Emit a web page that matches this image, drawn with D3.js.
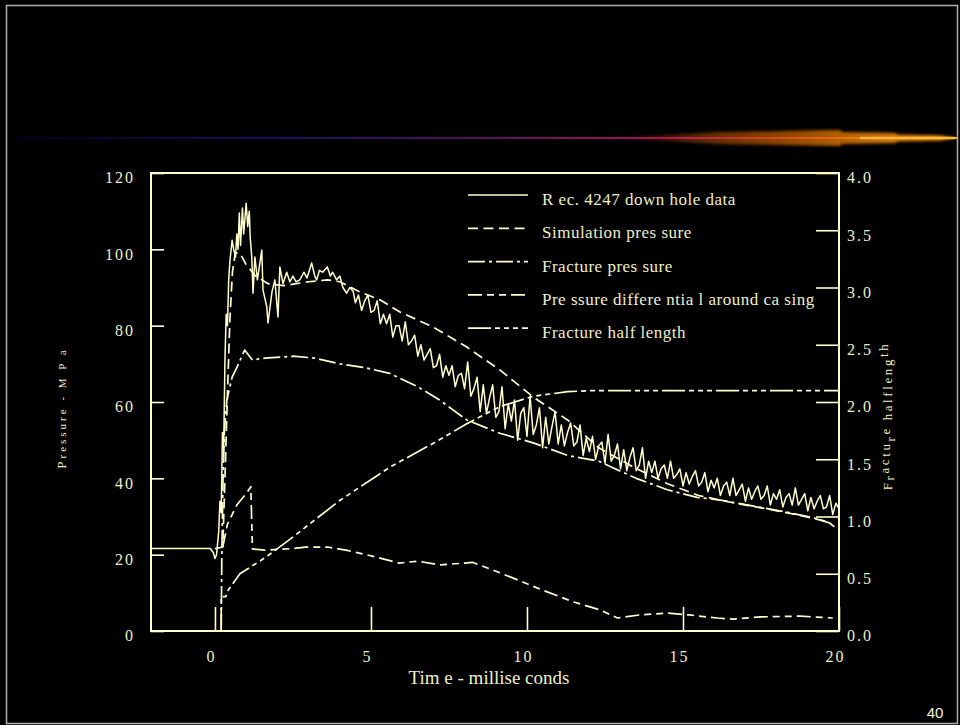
<!DOCTYPE html>
<html>
<head>
<meta charset="utf-8">
<script src="https://cdn.jsdelivr.net/npm/d3@7"></script>
<style>
  body { margin: 0; background: #000; }
  svg { display: block; }
  .tick text { font-family: "Liberation Serif", "Times New Roman", serif; font-size: 16px; fill: #efefc6; letter-spacing: 2px; }
  .tick line { stroke: #ffffcc; stroke-width: 1.6px; }
</style>
</head>
<body>
<div id="chart"></div>
<script>
// time (ms), pressure (MPa) -- recorded down hole data
var recData = [
  [-2.05, 21.6], [-0.15, 21.6], [-0.05, 20.5], [0.0, 19.0], [0.05, 20], [0.12, 26], [0.16, 34], [0.2, 31],
  [0.24, 52], [0.28, 48], [0.32, 71], [0.36, 83], [0.4, 80], [0.44, 92], [0.48, 97], [0.55, 102.4],
  [0.6, 100], [0.66, 98], [0.7, 104], [0.74, 100], [0.78, 109.5], [0.82, 101], [0.88, 110.8], [0.92, 104],
  [1.0, 112.1], [1.05, 106], [1.1, 110], [1.13, 103], [1.18, 98], [1.22, 88.5], [1.28, 98], [1.36, 92],
  [1.5, 99.8], [1.54, 89.3], [1.66, 85], [1.7, 80.7], [1.83, 89], [1.92, 92], [2.02, 82.3], [2.08, 95.4],
  [2.18, 91], [2.3, 94], [2.4, 91.5], [2.5, 93], [2.6, 91.5], [2.72, 92], [2.85, 94], [2.95, 92.5],
  [3.1, 96.4], [3.2, 93], [3.26, 92], [3.35, 94.5], [3.45, 94], [3.6, 95.4], [3.7, 93], [3.77, 94],
  [3.9, 92], [4.0, 93], [4.1, 90], [4.22, 88.5], [4.32, 90], [4.43, 89], [4.5, 86],
  [4.6, 88], [4.7, 84], [4.8, 86.5], [4.9, 88], [5.0, 83.5], [5.1, 84], [5.2, 86.5], [5.3, 80.5],
  [5.4, 83], [5.5, 80.5], [5.6, 83], [5.7, 77], [5.8, 80], [5.9, 80], [6.0, 76], [6.1, 81],
  [6.2, 75], [6.3, 76], [6.4, 77.5], [6.5, 72], [6.6, 75], [6.7, 71], [6.8, 72.5], [6.9, 74],
  [7.0, 69], [7.1, 69.5], [7.2, 72.5], [7.3, 66.5], [7.4, 69.5], [7.5, 67], [7.6, 69.5], [7.7, 64],
  [7.8, 67], [7.9, 67.5], [8.0, 63.5], [8.1, 70.5], [8.2, 61.5], [8.3, 63.5], [8.4, 66.5], [8.5, 57.5],
  [8.6, 64.5], [8.7, 57], [8.8, 61], [8.9, 64.5], [9.0, 56], [9.1, 57.5], [9.2, 64], [9.3, 53],
  [9.4, 59.5], [9.5, 55], [9.6, 60.5], [9.7, 50], [9.8, 57], [9.9, 58.5], [10.0, 51], [10.1, 61.5],
  [10.2, 51.5], [10.3, 54], [10.4, 58.5], [10.5, 48], [10.6, 56], [10.7, 49], [10.8, 53.5], [10.9, 57.5],
  [11.0, 49], [11.1, 54], [11.2, 48.5], [11.3, 52], [11.4, 54.5], [11.5, 48.5], [11.6, 49.5], [11.7, 54],
  [11.8, 46], [11.9, 50.5], [12.0, 47], [12.1, 51], [12.2, 45], [12.3, 48.5], [12.4, 49.5], [12.5, 44],
  [12.6, 51.5], [12.7, 44.5], [12.8, 46], [12.9, 49], [13.0, 42.5], [13.1, 47.5], [13.2, 42], [13.3, 45.5],
  [13.4, 48], [13.5, 42], [13.6, 43.5], [13.7, 48], [13.8, 40], [13.9, 44.5], [14.0, 41.5], [14.1, 44.5],
  [14.2, 40], [14.3, 42.5], [14.4, 43.5], [14.5, 40], [14.6, 44.5], [14.7, 40], [14.8, 41], [14.9, 42.5],
  [15.0, 38], [15.1, 41.5], [15.2, 38.5], [15.3, 40.5], [15.4, 42], [15.5, 38], [15.6, 39], [15.7, 41.5],
  [15.8, 36.5], [15.9, 39.5], [16.0, 37.5], [16.1, 40], [16.2, 35.5], [16.3, 38], [16.4, 39], [16.5, 35.5],
  [16.6, 40], [16.7, 35.5], [16.8, 37], [16.9, 38.5], [17.0, 34], [17.1, 37.5], [17.2, 34.5], [17.3, 36.5],
  [17.4, 38], [17.5, 34.5], [17.6, 35.5], [17.7, 38], [17.8, 33], [17.9, 36], [18.0, 34.5], [18.1, 37],
  [18.2, 32.5], [18.3, 35], [18.4, 36], [18.5, 33], [18.6, 37.5], [18.7, 33], [18.8, 34.5], [18.9, 36],
  [19.0, 31.5], [19.1, 35], [19.2, 32], [19.3, 34], [19.4, 35.5], [19.5, 32], [19.6, 32.5], [19.7, 35.5],
  [19.8, 30.5], [19.9, 33.5], [20.0, 32]
];

var simData = [
  [0.0, 21.6], [0.25, 22], [0.32, 40], [0.4, 62], [0.48, 82], [0.56, 94], [0.65, 99], [0.8, 99],
  [1.0, 96], [1.3, 93], [1.7, 91], [2.2, 90.5], [3.0, 91.5], [3.6, 92], [4.0, 91.5], [4.6, 89],
  [5.3, 86.7], [5.93, 83.6], [7.0, 79.6], [8.07, 74.4], [9.13, 68.4], [10.2, 61.3], [11.3, 55.3],
  [12.3, 48], [13.4, 43], [14.5, 38.6], [15.5, 35.5], [16.6, 33.6], [17.7, 32], [18.75, 30.3], [19.7, 28.5]
];

var fracData = [
  [0.2, 0], [0.22, 20], [0.26, 40], [0.3, 52], [0.38, 60.5], [0.55, 66.5], [0.7, 69], [0.95, 73.6],
  [1.2, 71], [1.6, 71.5], [2.5, 72], [3.2, 71.5], [4.0, 70], [4.8, 69], [5.6, 67.5], [6.5, 64],
  [7.2, 60.5], [8.07, 55.3], [9.13, 51.8], [10.2, 49.3], [11.3, 46], [12.3, 44.5], [12.75, 42.8],
  [13.5, 40], [14.5, 37], [15.45, 35], [16.2, 34.3], [17.4, 32.5], [18.3, 31.2], [19.2, 29.6],
  [19.7, 28.3], [19.85, 27.3]
];

var diffData = [
  [0.25, 22], [0.4, 28], [0.7, 33], [1.0, 36], [1.15, 37.8], [1.2, 21.5], [1.6, 21.2], [2.5, 21.6],
  [2.9, 22], [3.6, 22], [4.2, 21.2], [5.1, 19.5], [5.9, 17.8], [6.5, 18.3], [7.2, 17.3], [8.0, 17.8],
  [8.25, 18], [8.9, 16], [9.7, 13.4], [10.5, 10.7], [11.5, 7.6], [12.35, 5.5], [12.9, 3.4], [13.6, 4.2],
  [14.5, 4.7], [15.2, 4.2], [16.1, 3.4], [16.6, 3.1], [17.5, 3.7], [18.75, 3.9], [19.8, 3.4]
];

// fracture half length, right axis
var halfData = [
  [0.2, 0], [0.2, 0.3], [0.35, 0.3], [0.38, 0.34], [0.8, 0.5], [1.66, 0.65], [2.4, 0.8], [4.0, 1.14],
  [5.6, 1.43], [7.0, 1.64], [8.07, 1.81], [9.13, 1.96], [10.2, 2.05], [11.3, 2.09], [12.1, 2.1], [20, 2.1]
];

var legendLabels = ["R ec. 4247 down hole  data", "Simulation pres sure", "Fracture pres sure",
  "Pre ssure differe ntia l around ca sing", "Fracture half length"];
var leftTicks = [0, 20, 40, 60, 80, 100, 120];
var rightTicks = [0, 0.5, 1.0, 1.5, 2.0, 2.5, 3.0, 3.5, 4.0];
var timeTicks = [0, 5, 10, 15, 20];

var cream = "#ffffcc";
var textCol = "#efefc6";
var dashes = [null, "10,5.5", "17,4,3,4", "14,5,7,5,7,5", "23,4,5,4,5,4,5,4"];

var svg = d3.select("#chart").append("svg")
  .attr("width", 960)
  .attr("height", 725);

// slide frame
svg.append("rect")
  .attr("x", 6.5).attr("y", 5.5)
  .attr("width", 951).attr("height", 718)
  .attr("fill", "none")
  .attr("stroke", "#b0b0b0")
  .attr("stroke-width", 1.5);

// title bar gradient
var defs = svg.append("defs");
var lg = defs.append("linearGradient").attr("id", "bar").attr("gradientUnits", "userSpaceOnUse")
  .attr("x1", 20).attr("x2", 958).attr("y1", 0).attr("y2", 0);
lg.append("stop").attr("offset", 0).attr("stop-color", "#000020");
lg.append("stop").attr("offset", 0.25).attr("stop-color", "#12105a");
lg.append("stop").attr("offset", 0.5).attr("stop-color", "#5a1060");
lg.append("stop").attr("offset", 0.68).attr("stop-color", "#b01050");
lg.append("stop").attr("offset", 0.85).attr("stop-color", "#e06010");
lg.append("stop").attr("offset", 1).attr("stop-color", "#ffb020");

var gg = defs.append("linearGradient").attr("id", "glow").attr("gradientUnits", "userSpaceOnUse")
  .attr("x1", 610).attr("x2", 955).attr("y1", 0).attr("y2", 0);
gg.append("stop").attr("offset", 0).attr("stop-color", "#ff7000").attr("stop-opacity", 0);
gg.append("stop").attr("offset", 0.45).attr("stop-color", "#c05a00").attr("stop-opacity", 0.7);
gg.append("stop").attr("offset", 1).attr("stop-color", "#ff9a10").attr("stop-opacity", 1);

defs.append("filter").attr("id", "blur").append("feGaussianBlur").attr("stdDeviation", 1.6);

svg.append("path")
  .attr("d", "M610,138 L720,132 L840,130 L842,132 L895,133 L898,134.5 L940,135.5 L957,138 L940,140.5 L898,141.5 L895,143 L842,144 L840,146 L720,144 Z")
  .attr("fill", "url(#glow)")
  .attr("filter", "url(#blur)");

svg.append("line")
  .attr("x1", 20).attr("x2", 957).attr("y1", 138).attr("y2", 138)
  .attr("stroke", "url(#bar)")
  .attr("stroke-width", 2);

svg.append("line")
  .attr("x1", 860).attr("x2", 955).attr("y1", 138).attr("y2", 138)
  .attr("stroke", "#ffc040")
  .attr("stroke-width", 2.5)
  .attr("opacity", 0.8);

// plot area
var plotL = 151, plotR = 839, plotT = 173, plotB = 631;

var x = d3.scaleLinear().domain([-2.05, 20]).range([plotL, plotR]);
var yL = d3.scaleLinear().domain([0, 120]).range([plotB, plotT]);
var yR = d3.scaleLinear().domain([0, 4]).range([plotB, plotT]);

var g = svg.append("g");

// axes with inward ticks
var axL = g.append("g")
  .attr("transform", "translate(" + plotL + ",0)")
  .call(d3.axisLeft(yL).tickValues(leftTicks).tickSize(-13).tickPadding(16).tickFormat(d3.format("d")));
axL.selectAll(".tick text").attr("dy", "0.62em");

var axR = g.append("g")
  .attr("transform", "translate(" + plotR + ",0)")
  .call(d3.axisRight(yR).tickValues(rightTicks).tickSize(-23).tickPadding(8).tickFormat(d3.format(".1f")));
axR.selectAll(".tick text").attr("dy", "0.62em");

var axB = g.append("g")
  .attr("transform", "translate(0," + plotB + ")")
  .call(d3.axisBottom(x).tickValues(timeTicks).tickSize(-24).tickPadding(20).tickFormat(d3.format("d")));
axB.selectAll(".tick text").attr("dx", -4);

g.selectAll(".domain").remove();
g.selectAll(".tick line").attr("stroke", cream);

g.append("rect")
  .attr("x", plotL).attr("y", plotT)
  .attr("width", plotR - plotL).attr("height", plotB - plotT)
  .attr("fill", "none")
  .attr("stroke", cream)
  .attr("stroke-width", 2);

// series
var lineL = d3.line().x(function (d) { return x(d[0]); }).y(function (d) { return yL(d[1]); });
var lineR = d3.line().x(function (d) { return x(d[0]); }).y(function (d) { return yR(d[1]); });

var series = [
  { data: recData, line: lineL, w: 1.5 },
  { data: simData, line: lineL, w: 1.7 },
  { data: fracData, line: lineL, w: 1.7 },
  { data: diffData, line: lineL, w: 1.7 },
  { data: halfData, line: lineR, w: 1.7 }
];

series.forEach(function (s, i) {
  g.append("path")
    .attr("d", s.line(s.data))
    .attr("fill", "none")
    .attr("stroke", cream)
    .attr("stroke-width", s.w)
    .attr("stroke-linejoin", "round")
    .attr("stroke-dasharray", dashes[i]);
});

// legend
var legend = g.append("g").attr("transform", "translate(468,195)");
legendLabels.forEach(function (lab, i) {
  var row = legend.append("g").attr("transform", "translate(0," + (i * 33.3) + ")");
  row.append("line")
    .attr("x1", 0).attr("x2", 60)
    .attr("stroke", cream)
    .attr("stroke-width", 1.7)
    .attr("stroke-dasharray", dashes[i]);
  row.append("text")
    .attr("x", 74).attr("y", 10)
    .style("font-family", "'Liberation Serif', 'Times New Roman', serif")
    .style("font-size", "17px")
    .style("letter-spacing", "0.5px")
    .attr("fill", textCol)
    .text(lab);
});

// axis titles
svg.append("text")
  .attr("x", 489).attr("y", 684)
  .attr("text-anchor", "middle")
  .style("font-family", "'Liberation Serif', 'Times New Roman', serif")
  .style("font-size", "19px")
  .attr("fill", textCol)
  .text("Tim e - millise conds");

var yt = svg.append("text")
  .attr("transform", "translate(66,408) rotate(-90)")
  .attr("text-anchor", "middle")
  .style("font-family", "'Liberation Serif', 'Times New Roman', serif")
  .style("font-size", "11px")
  .style("letter-spacing", "3px")
  .attr("fill", textCol);
yt.append("tspan").style("font-size", "13px").text("P");
yt.append("tspan").text("ressure  -  M P a");

var rt = svg.append("text")
  .attr("transform", "translate(892,416) rotate(-90)")
  .attr("text-anchor", "middle")
  .style("font-family", "'Liberation Serif', 'Times New Roman', serif")
  .style("font-size", "13px")
  .style("letter-spacing", "2.6px")
  .attr("fill", textCol);
[["F", 0], ["r", 2], ["ac", -3], ["tu", -2], ["r", 3], ["e", -2], [" half", 0], ["len", 0], ["g", 0], ["th", -4]]
  .forEach(function (p, i, arr) {
    var prev = i > 0 ? arr[i - 1][1] : 0;
    rt.append("tspan").attr("dy", p[1] - prev).text(p[0]);
  });

// slide number
svg.append("text")
  .attr("x", 935).attr("y", 718)
  .attr("text-anchor", "middle")
  .style("font-family", "'Liberation Sans', Arial, sans-serif")
  .style("font-size", "15px")
  .attr("fill", "#f4f4d8")
  .text("40");
</script>
</body>
</html>
